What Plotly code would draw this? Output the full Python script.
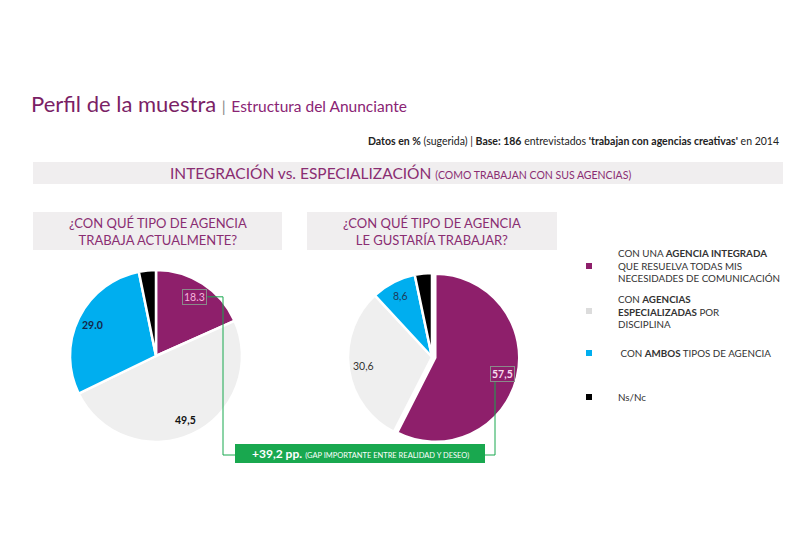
import math
import plotly.graph_objects as go

# ---------------- data ----------------
categories = ["Agencia integrada", "Agencias especializadas", "Ambos tipos", "Ns/Nc"]
actual_values = [18.3, 49.5, 29.0, 3.2]
deseo_values = [57.5, 30.6, 8.6, 3.3]
actual_labels = ["18.3", "49,5", "29.0", None]
deseo_labels = ["57,5", "30,6", "8,6", None]
colors = ["#8e1f6b", "#efefef", "#00aeef", "#000000"]
gap_text = "+39,2 pp."
legend_texts = [
    "CON UNA <b>AGENCIA INTEGRADA</b><br>QUE RESUELVA TODAS MIS<br>NECESIDADES DE COMUNICACIÓN",
    "CON <b>AGENCIAS</b><br><b>ESPECIALIZADAS</b> POR<br>DISCIPLINA",
    " CON <b>AMBOS</b> TIPOS DE AGENCIA",
    "Ns/Nc",
]

W, H = 810, 558
FONT = "Lato"
PURPLE = "#7b1f66"


def px(x):
    return x / W


def py(y):
    return 1 - y / H


fig = go.Figure()

# pie geometry (pixels)
pies = [
    dict(values=actual_values, labels=actual_labels, cx=156, cy=356, R=86, pull=[0, 0.0, 0, 0]),
    dict(values=deseo_values, labels=deseo_labels, cx=432, cy=357, R=84, pull=[0.04, 0, 0, 0]),
]

for p in pies:
    maxpull = max(p["pull"])
    half = p["R"] * (1 + maxpull)
    fig.add_trace(go.Pie(
        values=p["values"], labels=categories, sort=False, direction="clockwise",
        rotation=0, pull=p["pull"], textinfo="none", hoverinfo="label+value",
        marker=dict(colors=colors, line=dict(color="white", width=2.5)),
        domain=dict(x=[px(p["cx"] - half), px(p["cx"] + half)],
                    y=[py(p["cy"] + half), py(p["cy"] - half)]),
        showlegend=False,
    ))

annotations = []
shapes = []


def note(x, y, text, size, color, xanchor="center", yanchor="middle", **kw):
    d = dict(x=px(x), y=py(y), xref="paper", yref="paper", text=text, showarrow=False,
             xanchor=xanchor, yanchor=yanchor, font=dict(family=FONT, size=size, color=color))
    d.update(kw)
    annotations.append(d)


label_styles = [
    [dict(color="#f6b3dc", box=True, bold=False), dict(color="#111111", box=False, bold=True),
     dict(color="#14284a", box=False, bold=True), None],
    [dict(color="#f8dcee", box=True, bold=True), dict(color="#333333", box=False, bold=False),
     dict(color="#1d3a5c", box=False, bold=False), None],
]

label_pos = []
for pi, p in enumerate(pies):
    total = sum(p["values"])
    cum = 0
    pos = []
    for i, v in enumerate(p["values"]):
        mid = (cum + v / 2) / total * 2 * math.pi
        cum += v
        r = 0.82 * p["R"] + p["pull"][i] * p["R"]
        x = p["cx"] + r * math.sin(mid)
        y = p["cy"] - r * math.cos(mid)
        pos.append((x, y))
        lab = p["labels"][i]
        st = label_styles[pi][i]
        if lab is None or st is None:
            continue
        txt = f"<b>{lab}</b>" if st["bold"] else lab
        extra = dict(bordercolor="#8a8a8a", borderwidth=1, borderpad=1) if st["box"] else {}
        note(x, y, txt, 10.5, st["color"], **extra)
    label_pos.append(pos)

# connector lines
GREEN = "#19a84f"
lx, ly = label_pos[0][0]
rx, ry = label_pos[1][0]
path_left = f"M {px(lx + 13)} {py(ly)} L {px(223)} {py(ly)} L {px(223)} {py(455)} L {px(235)} {py(455)}"
path_right = f"M {px(485)} {py(455)} L {px(495)} {py(455)} L {px(495)} {py(ry + 8)}"
for pth in (path_left, path_right):
    shapes.append(dict(type="path", path=pth, xref="paper", yref="paper",
                       line=dict(color=GREEN, width=1)))

# green gap box
shapes.append(dict(type="rect", xref="paper", yref="paper", x0=px(235), x1=px(485),
                   y0=py(463), y1=py(444), fillcolor=GREEN, line=dict(width=0)))
note(360, 453.5,
     f"<b>{gap_text}</b> <span style='font-size:7.5px'>(GAP IMPORTANTE ENTRE REALIDAD Y DESEO)</span>",
     12, "white")

# header band
shapes.append(dict(type="rect", xref="paper", yref="paper", x0=px(33), x1=px(783),
                   y0=py(184), y1=py(162), fillcolor="#f0eeef", line=dict(width=0)))
note(400, 173,
     "INTEGRACIÓN vs. ESPECIALIZACIÓN <span style='font-size:10.5px'>(COMO TRABAJAN CON SUS AGENCIAS)</span>",
     15.5, "#8a2d72")

# question boxes
for (x0, x1, txt) in [(33, 282, "¿CON QUÉ TIPO DE AGENCIA<br>TRABAJA ACTUALMENTE?"),
                      (307, 557, "¿CON QUÉ TIPO DE AGENCIA<br>LE GUSTARÍA TRABAJAR?")]:
    shapes.append(dict(type="rect", xref="paper", yref="paper", x0=px(x0), x1=px(x1),
                       y0=py(250), y1=py(212), fillcolor="#f0eeef", line=dict(width=0)))
    note((x0 + x1) / 2, 231, txt, 13, "#8a2d72")

# title
note(29, 104,
     "Perfil de la muestra <span style='font-size:15.5px;color:#888888'>|</span> "
     "<span style='font-size:15.5px;color:#8a2474'>Estructura del Anunciante</span>",
     22, PURPLE, xanchor="left")
note(781, 141,
     "<b>Datos en %</b> (sugerida) | <b>Base: 186</b> entrevistados <b>'trabajan con agencias creativas'</b> en 2014",
     10.5, "#222222", xanchor="right")

# legend
leg_y = [266, 311, 353, 397]
sq_colors = ["#8e1f6b", "#dcdcdc", "#00aeef", "#000000"]
for i, t in enumerate(legend_texts):
    y = leg_y[i]
    shapes.append(dict(type="rect", xref="paper", yref="paper", x0=px(586), x1=px(592),
                       y0=py(y + 3), y1=py(y - 3), fillcolor=sq_colors[i], line=dict(width=0)))
    note(616, y, t, 9.8, "#333333", xanchor="left", align="left")

fig.update_layout(
    width=W, height=H, margin=dict(l=0, r=0, t=0, b=0),
    paper_bgcolor="white", plot_bgcolor="white",
    shapes=shapes, annotations=annotations, showlegend=False,
)

fig.write_html("out.html", config={"displayModeBar": False},
               post_script="document.body.style.margin='0';")
